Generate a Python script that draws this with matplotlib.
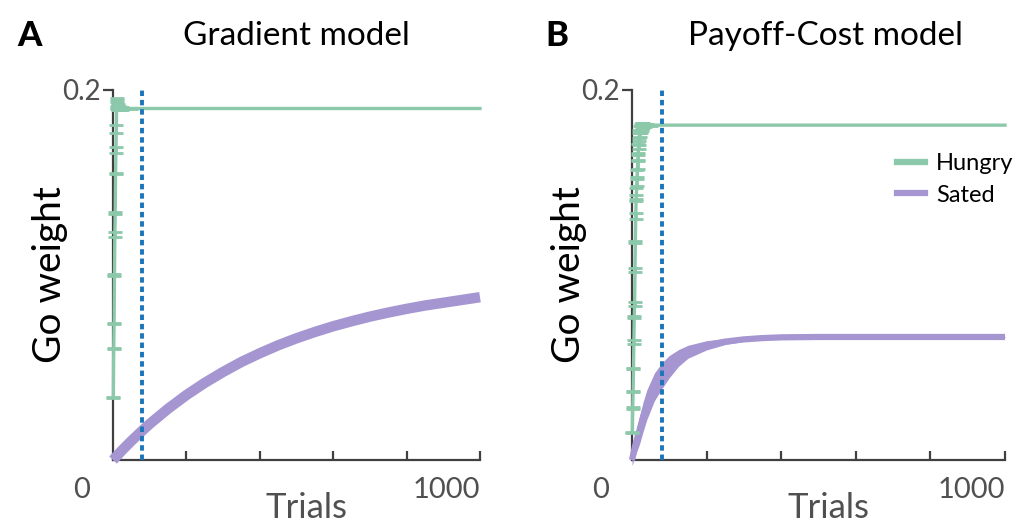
import numpy as np
import matplotlib.pyplot as plt
from matplotlib.lines import Line2D

plt.rcParams['font.family'] = ['Lato', 'DejaVu Sans']

##########################
### Data ###

# Panel A - Gradient model
hungry_a_trials = [1, 2, 3, 4, 5, 6, 7, 8, 9, 10, 11, 12, 14, 16, 20, 25, 30, 50, 1000]
hungry_a_mean = [0.034, 0.0605, 0.074, 0.100, 0.1218, 0.1335, 0.155, 0.1675, 0.179,
                 0.1935, 0.1925, 0.1915, 0.1908, 0.1903, 0.1900, 0.1900, 0.1900, 0.1900, 0.1900]
hungry_a_err = [0.0003, 0.0003, 0.0003, 0.0003, 0.0014, 0.0003, 0.0003, 0.0016, 0.002,
                0.0021, 0.002, 0.002, 0.0015, 0.0012, 0.001, 0.0008, 0.0005, 0.0002, 0.0]

sated_a_trials = [0, 25, 50, 75, 100, 150, 200, 250, 300, 350, 400, 450, 500,
                  550, 600, 650, 700, 750, 800, 850, 900, 950, 1000]
sated_a_mean = [0.0, 0.0053, 0.0103, 0.0150, 0.0195, 0.0277, 0.0351, 0.0417, 0.0476,
                0.0530, 0.0577, 0.0620, 0.0658, 0.0692, 0.0723, 0.0750, 0.0775,
                0.0797, 0.0817, 0.0835, 0.0850, 0.0865, 0.0880]

# Panel B - Payoff-Cost model
hungry_b_trials = [1, 2, 3, 4, 5, 6, 7, 8, 9, 10, 11, 12, 13, 14, 15, 16, 17, 18, 19, 20,
                   22, 24, 26, 28, 30, 35, 40, 50, 1000]
hungry_b_mean = [0.0151, 0.0281, 0.0368, 0.0497, 0.0638, 0.0773, 0.0843, 0.1027, 0.1178,
                 0.1319, 0.1405, 0.1450, 0.1500, 0.1550, 0.1595, 0.1640, 0.1680, 0.1710,
                 0.1735, 0.1755, 0.1775, 0.1790, 0.1800, 0.1805, 0.1808, 0.1810, 0.1810,
                 0.1810, 0.1810]
hungry_b_err = [0.0003, 0.0003, 0.0003, 0.0003, 0.0010, 0.0003, 0.0012, 0.0011, 0.0005,
                0.0016, 0.0005, 0.0020, 0.0020, 0.0020, 0.0020, 0.0020, 0.0030, 0.0030,
                0.0030, 0.0030, 0.0030, 0.0025, 0.0020, 0.0015, 0.0012, 0.0008, 0.0005,
                0.0002, 0.0]

sated_b_trials = [0, 10, 20, 30, 40, 60, 80, 100, 125, 150, 200, 250, 300, 350, 400,
                  500, 600, 700, 800, 900, 1000]
sated_b_mean = [0.0, 0.0090, 0.0160, 0.0235, 0.0300, 0.0395, 0.0455, 0.0505, 0.0552,
                0.0585, 0.0620, 0.0640, 0.0652, 0.0659, 0.0663, 0.0665, 0.0665, 0.0665,
                0.0665, 0.0665, 0.0665]
sated_b_err = [0.003, 0.006, 0.0075, 0.008, 0.008, 0.0075, 0.007, 0.006, 0.0045, 0.0035,
               0.0025, 0.0016, 0.0011, 0.0008, 0.0006, 0.0004, 0.0003, 0.0003, 0.0003,
               0.0003, 0.0003]

SWITCH_TRIAL = 80
##########################

GREEN = '#8cc8aa'
PURPLE = '#a596d2'
BLUE = '#1b75bb'
SPINE = '#404040'
GREY_TXT = '#505050'

fig = plt.figure(figsize=(10.24, 5.25), dpi=100)


def px(x, y):
    """figure fraction from pixel position (top-left origin)"""
    return x / 1024, 1 - y / 525


def setup_axes(left_px, right_px):
    l, b = px(left_px, 460)
    r, t = px(right_px, 90)
    ax = fig.add_axes([l, b, r - l, t - b])
    ax.set_xlim(0, 1000)
    ax.set_ylim(0, 0.2)
    for s in ['top', 'right']:
        ax.spines[s].set_visible(False)
    for s in ['left', 'bottom']:
        ax.spines[s].set_color(SPINE)
        ax.spines[s].set_linewidth(1.6)
    ax.set_xticks([200, 400, 600, 800, 1000])
    ax.set_xticklabels([])
    ax.tick_params(axis='x', direction='in', length=6.5, width=1.6, color=SPINE)
    ax.set_yticks([0.2])
    ax.set_yticklabels(['0.2'])
    ax.tick_params(axis='y', direction='out', length=7, width=1.6, color=SPINE,
                   labelsize=20, labelcolor=GREY_TXT, pad=2)
    ax.set_facecolor('none')
    return ax


def draw_hungry(ax, trials, mean, err):
    ax.plot(trials, mean, color=GREEN, lw=2.4, zorder=3, clip_on=False)
    # no error bar on the last (flat) point
    ax.errorbar(trials[:-1], mean[:-1], yerr=err[:-1], fmt='none', ecolor=GREEN,
                elinewidth=2, capsize=5, capthick=2, zorder=3, clip_on=False)


# ---- Panel A ----
axA = setup_axes(113, 480)
axA.plot(sated_a_trials, sated_a_mean, color=PURPLE, lw=7.5, solid_capstyle='butt',
         zorder=3, clip_on=False)
draw_hungry(axA, hungry_a_trials, hungry_a_mean, hungry_a_err)
axA.axvline(SWITCH_TRIAL, color=BLUE, lw=2.8, linestyle=(0, (1.4, 1.0)), zorder=5)

# ---- Panel B ----
axB = setup_axes(632, 1005)
sb_m = np.array(sated_b_mean)
sb_e = np.array(sated_b_err)
axB.fill_between(sated_b_trials, sb_m - sb_e, sb_m + sb_e, color=PURPLE, lw=0,
                 zorder=3, clip_on=False)
axB.plot(sated_b_trials, sated_b_mean, color=PURPLE, lw=4.5, solid_capstyle='butt',
         zorder=3, clip_on=False)
draw_hungry(axB, hungry_b_trials, hungry_b_mean, hungry_b_err)
axB.axvline(SWITCH_TRIAL, color=BLUE, lw=2.8, linestyle=(0, (1.4, 1.0)), zorder=5)

handles = [Line2D([], [], color=GREEN, lw=4.5), Line2D([], [], color=PURPLE, lw=4.5)]
axB.legend(handles, ['Hungry', 'Sated'], loc='upper left', bbox_to_anchor=(0.685, 0.855),
           frameon=False, fontsize=17, handlelength=1.2, handletextpad=0.45,
           labelspacing=0.45, borderaxespad=0)

# ---- Texts ----
for cx, title, letter, lx in [(296, 'Gradient model', 'A', 17), (825, 'Payoff-Cost model', 'B', 545)]:
    fig.text(*px(cx, 36), title, fontsize=24, ha='center', va='center', color='black')
    fig.text(*px(lx, 36), letter, fontsize=25, fontweight='black', ha='left', va='center')

for x0, x1 in [(113, 480), (632, 1005)]:
    fig.text(*px(50 + (x0 - 113), 275), 'Go weight', fontsize=28, rotation=90,
             ha='center', va='center', color='black')
    fig.text(*px(x0 - 31, 490), '0', fontsize=21, ha='center', va='center', color=GREY_TXT)
    fig.text(*px(x1, 490), '1000', fontsize=21, ha='right', va='center', color=GREY_TXT)
    fig.text(*px((x0 + x1) / 2 + 10, 508), 'Trials', fontsize=25, ha='center', va='center',
             color=GREY_TXT)

fig.savefig('out.png', dpi=100, facecolor='white')
